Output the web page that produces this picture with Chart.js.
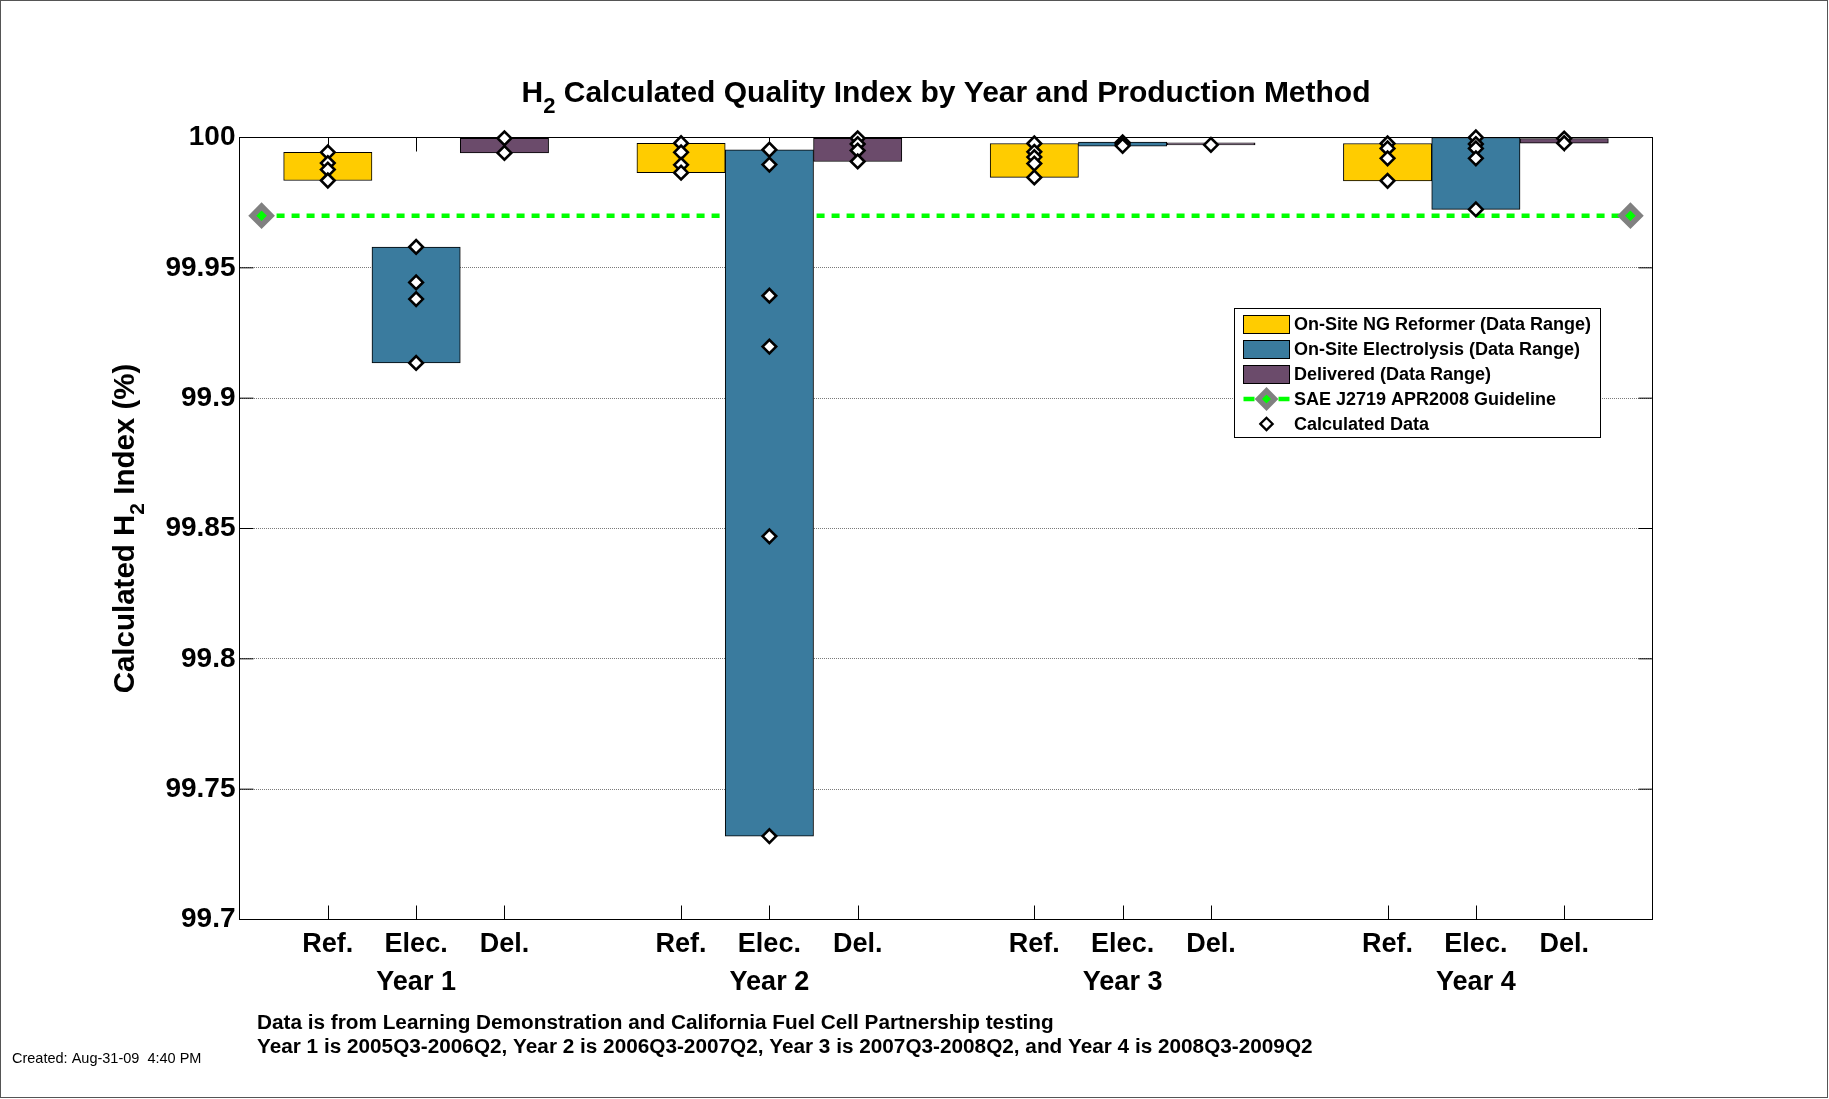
<!DOCTYPE html>
<html>
<head>
<meta charset="utf-8">
<script src="https://cdn.jsdelivr.net/npm/chart.js@4.4.1/dist/chart.umd.min.js"></script>
<style>
  html, body { margin: 0; padding: 0; background: #fff; }
  canvas { display: block; }
</style>
</head>
<body>
<canvas id="myChart" width="1829" height="1099"></canvas>
<script>
"use strict";

const categories = ["Ref.", "Elec.", "Del."];
const years = ["Year 1", "Year 2", "Year 3", "Year 4"];
const xPositions = [1, 2, 3, 5, 6, 7, 9, 10, 11, 13, 14, 15];

// data range of each method per year (low, high)
const refLow   = [99.9835, 99.9865, 99.9847, 99.9833];
const refHigh  = [99.9943, 99.9978, 99.9977, 99.9977];
const elecLow  = [99.9135, 99.7320, 99.9967, 99.9724];
const elecHigh = [99.9580, 99.9953, 99.9982, 100.0];
const delLow   = [99.9941, 99.9908, 99.9972, 99.9978];
const delHigh  = [99.9997, 99.9997, 99.9972, 99.9996];

// calculated data points
const refPoints = [
  [99.9943, 99.9902, 99.9877, 99.9835],
  [99.9978, 99.9943, 99.9895, 99.9865],
  [99.9977, 99.9945, 99.9925, 99.9900, 99.9847],
  [99.9977, 99.9958, 99.9920, 99.9834]
];
const elecPoints = [
  [99.9580, 99.9444, 99.9380, 99.9135],
  [99.9953, 99.9896, 99.9393, 99.9198, 99.8470, 99.7320],
  [99.9981, 99.9975, 99.9968],
  [100.0, 99.9975, 99.9958, 99.9920, 99.9724]
];
const delPoints = [
  [99.9997, 99.9941],
  [99.9997, 99.9975, 99.9950, 99.9908],
  [99.9972],
  [99.9996, 99.9978]
];

const guideValue = 99.97;
const guideX = [0.25, 15.75];

const yTicks = [99.7, 99.75, 99.8, 99.85, 99.9, 99.95, 100];
const yTickLabels = ["99.7", "99.75", "99.8", "99.85", "99.9", "99.95", "100"];

const FONT = "'Liberation Sans', Arial, Helvetica, sans-serif";
Chart.defaults.font.family = FONT;
Chart.defaults.color = "#000";

function bars(low, high, k) {
  return low.map((v, i) => ({ x: xPositions[i * 3 + k], y: [v, high[i]] }));
}

let calcData = [];
[refPoints, elecPoints, delPoints].forEach((set, k) => {
  set.forEach((vals, i) => {
    vals.forEach(v => calcData.push({ x: xPositions[i * 3 + k], y: v }));
  });
});

const barStyle = {
  type: "bar",
  borderColor: "#000",
  borderWidth: 1,
  borderSkipped: false,
  minBarLength: 2,
  grouped: false,
  barPercentage: 1,
  categoryPercentage: 1,
  order: 2,
  clip: false
};

let data = {
  datasets: [
    Object.assign({}, barStyle, {
      label: "On-Site NG Reformer (Data Range)",
      backgroundColor: "#FFCC00",
      data: bars(refLow, refHigh, 0)
    }),
    Object.assign({}, barStyle, {
      label: "On-Site Electrolysis (Data Range)",
      backgroundColor: "#3A7B9E",
      data: bars(elecLow, elecHigh, 1)
    }),
    Object.assign({}, barStyle, {
      label: "Delivered (Data Range)",
      backgroundColor: "#6B4B6B",
      data: bars(delLow, delHigh, 2)
    }),
    {
      type: "line",
      label: "SAE J2719 APR2008 Guideline",
      data: guideX.map(x => ({ x: x, y: guideValue })),
      borderColor: "#00FF00",
      borderWidth: 4.5,
      borderDash: [8, 7],
      pointStyle: "rectRot",
      pointRadius: 9.3,
      pointBorderWidth: 5.7,
      pointBorderColor: "#808080",
      pointBackgroundColor: "#00FF00",
      order: 3,
      clip: false
    },
    {
      type: "line",
      label: "Calculated Data",
      data: calcData,
      showLine: false,
      pointStyle: "rectRot",
      pointRadius: 6.8,
      pointBorderWidth: 2.6,
      pointBorderColor: "#000",
      pointBackgroundColor: "#fff",
      order: 1,
      clip: false
    }
  ]
};

function drawParts(ctx, parts, x, y, center) {
  let total = 0;
  parts.forEach(p => { ctx.font = p.f; p.w = ctx.measureText(p.t).width; total += p.w; });
  let cx = center ? x - total / 2 : x;
  parts.forEach(p => {
    ctx.font = p.f;
    ctx.fillText(p.t, cx, y + (p.dy || 0));
    cx += p.w;
  });
}

function diamond(ctx, x, y, r, fill, stroke, lw) {
  ctx.beginPath();
  ctx.moveTo(x - r, y);
  ctx.lineTo(x, y - r);
  ctx.lineTo(x + r, y);
  ctx.lineTo(x, y + r);
  ctx.closePath();
  ctx.fillStyle = fill;
  ctx.fill();
  ctx.lineWidth = lw;
  ctx.strokeStyle = stroke;
  ctx.lineJoin = "miter";
  ctx.stroke();
}

const decor = {
  id: "decor",
  beforeDraw(chart) {
    const ctx = chart.ctx;
    ctx.save();
    ctx.fillStyle = "#fff";
    ctx.fillRect(0, 0, chart.width, chart.height);
    ctx.restore();
  },
  beforeDatasetsDraw(chart) {
    const ctx = chart.ctx;
    const a = chart.chartArea;
    const xs = chart.scales.x, ys = chart.scales.y;
    const tl = 14;
    ctx.save();
    ctx.strokeStyle = "#000";
    ctx.lineWidth = 1;
    ctx.strokeRect(a.left, a.top, a.right - a.left, a.bottom - a.top);
    ctx.beginPath();
    xs.ticks.forEach(t => {
      const px = Math.round(xs.getPixelForValue(t.value)) + 0.5;
      ctx.moveTo(px, a.bottom); ctx.lineTo(px, a.bottom - tl);
      ctx.moveTo(px, a.top); ctx.lineTo(px, a.top + tl);
    });
    ys.ticks.forEach(t => {
      const py = ys.getPixelForValue(t.value);
      ctx.moveTo(a.left, py); ctx.lineTo(a.left + tl, py);
      ctx.moveTo(a.right, py); ctx.lineTo(a.right - tl, py);
    });
    ctx.stroke();
    ctx.restore();
  },
  afterDraw(chart) {
    const ctx = chart.ctx;
    const a = chart.chartArea;
    ctx.save();
    ctx.fillStyle = "#000";
    ctx.textBaseline = "alphabetic";
    ctx.textAlign = "left";

    // title
    const big = "bold 30px " + FONT, sub = "bold 22px " + FONT;
    drawParts(ctx, [
      { t: "H", f: big },
      { t: "2", f: sub, dy: 11 },
      { t: " Calculated Quality Index by Year and Production Method", f: big }
    ], (a.left + a.right) / 2, 102, true);

    // y axis label
    ctx.save();
    ctx.translate(134, (a.top + a.bottom) / 2);
    ctx.rotate(-Math.PI / 2);
    const yl = "bold 29.5px " + FONT, ys = "bold 21px " + FONT;
    drawParts(ctx, [
      { t: "Calculated H", f: yl },
      { t: "2", f: ys, dy: 10 },
      { t: " Index (%)", f: yl }
    ], 0, 0, true);
    ctx.restore();

    // notes
    ctx.font = "bold 20.75px " + FONT;
    ctx.fillText("Data is from Learning Demonstration and California Fuel Cell Partnership testing", 257, 1029);
    ctx.fillText("Year 1 is 2005Q3-2006Q2, Year 2 is 2006Q3-2007Q2, Year 3 is 2007Q3-2008Q2, and Year 4 is 2008Q3-2009Q2", 257, 1053);
    ctx.font = "14.5px " + FONT;
    ctx.fillText("Created: Aug-31-09  4:40 PM", 12, 1063);

    // legend
    const ds = chart.data.datasets;
    const lx = 1234.5, ly = 308.5, lw = 366, lh = 129;
    ctx.fillStyle = "#fff";
    ctx.fillRect(lx, ly, lw, lh);
    ctx.strokeStyle = "#000";
    ctx.lineWidth = 1;
    ctx.strokeRect(lx, ly, lw, lh);
    const sx = 1243.5, sw = 46;
    ds.forEach((d, i) => {
      const ry = 324.3 + i * 24.9;
      if (i < 3) {
        ctx.fillStyle = d.backgroundColor;
        ctx.fillRect(sx, Math.round(ry - 9) + 0.5, sw, 18);
        ctx.strokeStyle = "#000";
        ctx.lineWidth = 1;
        ctx.strokeRect(sx, Math.round(ry - 9) + 0.5, sw, 18);
      } else if (i === 3) {
        ctx.save();
        ctx.strokeStyle = d.borderColor;
        ctx.lineWidth = d.borderWidth;
        ctx.setLineDash([11, 24]);
        ctx.beginPath();
        ctx.moveTo(sx, ry); ctx.lineTo(sx + sw, ry);
        ctx.stroke();
        ctx.restore();
        diamond(ctx, sx + sw / 2, ry, 8.2, d.pointBackgroundColor, d.pointBorderColor, 5.2);
      } else {
        diamond(ctx, sx + sw / 2, ry, 6.2, d.pointBackgroundColor, d.pointBorderColor, 2.2);
      }
      ctx.fillStyle = "#000";
      ctx.font = "bold 18px " + FONT;
      ctx.textBaseline = "middle";
      ctx.fillText(d.label, 1294, ry + 1);
      ctx.textBaseline = "alphabetic";
    });

    // figure border
    ctx.strokeStyle = "#555";
    ctx.lineWidth = 1;
    ctx.strokeRect(0.5, 0.5, chart.width - 2, chart.height - 2);
    ctx.restore();
  }
};

const config = {
  type: "bar",
  data: data,
  options: {
    responsive: false,
    animation: false,
    devicePixelRatio: 1,
    layout: { padding: { left: 0, right: 176.5, top: 137.5, bottom: 0 } },
    scales: {
      x: {
        type: "linear",
        min: 0,
        max: 16,
        offset: false,
        afterBuildTicks: axis => { axis.ticks = xPositions.map(v => ({ value: v })); },
        afterFit: axis => { axis.height = 179.5; },
        grid: { display: false, drawTicks: false },
        border: { display: false },
        ticks: {
          autoSkip: false,
          maxRotation: 0,
          minRotation: 0,
          padding: 6,
          color: "#000",
          font: { size: 27, weight: "bold", lineHeight: 1.4 },
          callback: (value, index) => {
            const k = index % 3;
            return k === 1 ? [categories[k], years[Math.floor(index / 3)]] : categories[k];
          }
        }
      },
      y: {
        type: "linear",
        min: 99.7,
        max: 100,
        beginAtZero: false,
        afterBuildTicks: axis => { axis.ticks = yTicks.map(v => ({ value: v })); },
        afterFit: axis => { axis.width = 239.5; },
        grid: {
          drawTicks: false,
          lineWidth: 1,
          color: c => (c.index === 0 || c.index === yTicks.length - 1) ? "rgba(0,0,0,0)" : "#7a7a7a"
        },
        border: { display: false, dash: [1, 1] },
        ticks: {
          padding: 4,
          color: "#000",
          font: { size: 28, weight: "bold" },
          callback: (value, index) => yTickLabels[index]
        }
      }
    },
    plugins: {
      legend: { display: false },
      tooltip: { enabled: false },
      title: { display: false }
    }
  },
  plugins: [decor]
};

let myChart = new Chart(document.getElementById("myChart"), config);
</script>
</body>
</html>
